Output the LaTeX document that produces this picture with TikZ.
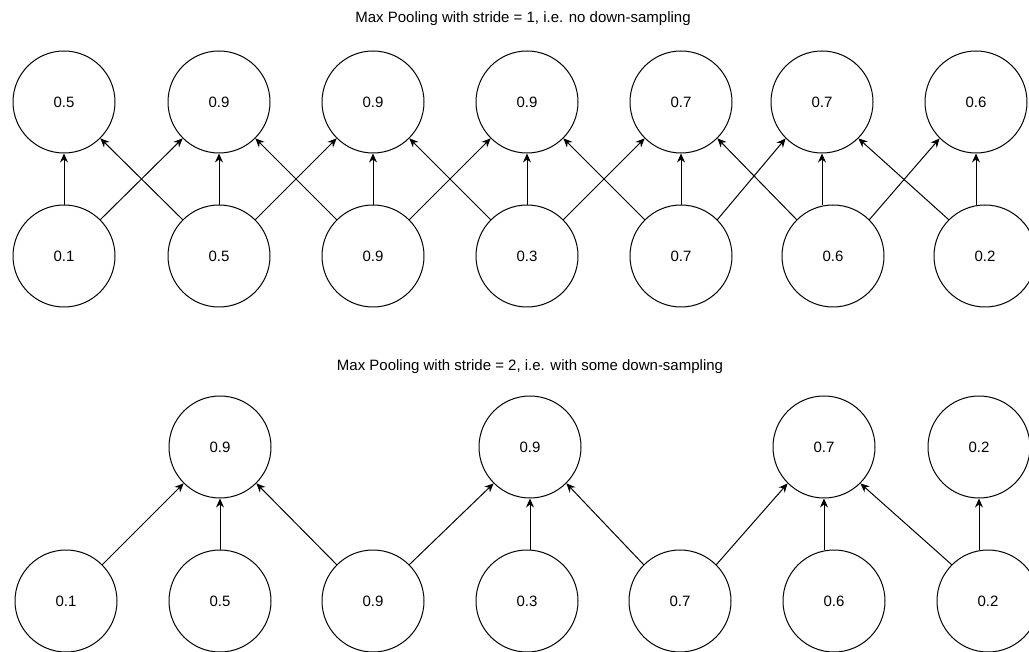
\documentclass[tikz,border=0pt]{standalone}
\usepackage{fontspec}
\setmainfont{Liberation Sans}
\usetikzlibrary{arrows.meta}

\begin{document}
\begin{tikzpicture}[x=1pt, y=-1pt, line cap=round, line join=round,
  nodo/.style={circle, draw, line width=1pt, minimum size=102pt, inner sep=0pt,
    font=\fontsize{15}{18}\selectfont},
  freccia/.style={-{Stealth[length=9pt,width=8pt,inset=3pt]}, line width=1pt},
  titolo/.style={font=\fontsize{15}{18}\selectfont}]
  \useasboundingbox (0,0) rectangle (1029,652);
  \clip (0,0) rectangle (1029,652);

  % titoli
  \node[titolo] (tit1) at (523,19) {Max Pooling with stride = 1, i.e. no down-sampling};
  \node[titolo] (tit2) at (530,367) {Max Pooling with stride = 2, i.e. with some down-sampling};

  % stride 1: ingresso e uscita
  \foreach \x/\val [count=\n] in {64/0.1, 219/0.5, 373/0.9, 527/0.3, 681/0.7, 833/0.6, 985/0.2}
    \node[nodo] (a\n) at (\x,256) {\val};
  \foreach \x/\val [count=\n] in {64/0.5, 219/0.9, 373/0.9, 527/0.9, 681/0.7, 822/0.7, 976/0.6}
    \node[nodo] (u\n) at (\x,102) {\val};

  % frecce stride 1
  \foreach \n in {1,...,7}
    \draw[freccia] (u\n |- a\n.north) -- (u\n.south);
  \foreach \n [evaluate=\n as \m using int(\n+1)] in {1,...,6} {
    \draw[freccia] (a\n.north east) -- (u\m.south west);
    \draw[freccia] (a\m.north west) -- (u\n.south east);
  }

  % stride 2: ingresso e uscita
  \foreach \x/\val [count=\n] in {66/0.1, 220/0.5, 373/0.9, 527/0.3, 680/0.7, 834/0.6, 988/0.2}
    \node[nodo] (b\n) at (\x,601) {\val};
  \foreach \x/\val [count=\n] in {220/0.9, 530/0.9, 824/0.7, 979/0.2}
    \node[nodo] (p\n) at (\x,447) {\val};

  % frecce stride 2
  \draw[freccia] (b1.north east) -- (p1.south west);
  \draw[freccia] (p1 |- b2.north) -- (p1.south);
  \draw[freccia] (b3.north west) -- (p1.south east);
  \draw[freccia] (b3.north east) -- (p2.south west);
  \draw[freccia] (p2 |- b4.north) -- (p2.south);
  \draw[freccia] (b5.north west) -- (p2.south east);
  \draw[freccia] (b5.north east) -- (p3.south west);
  \draw[freccia] (p3 |- b6.north) -- (p3.south);
  \draw[freccia] (b7.north west) -- (p3.south east);
  \draw[freccia] (p4 |- b7.north) -- (p4.south);
\end{tikzpicture}
\end{document}
